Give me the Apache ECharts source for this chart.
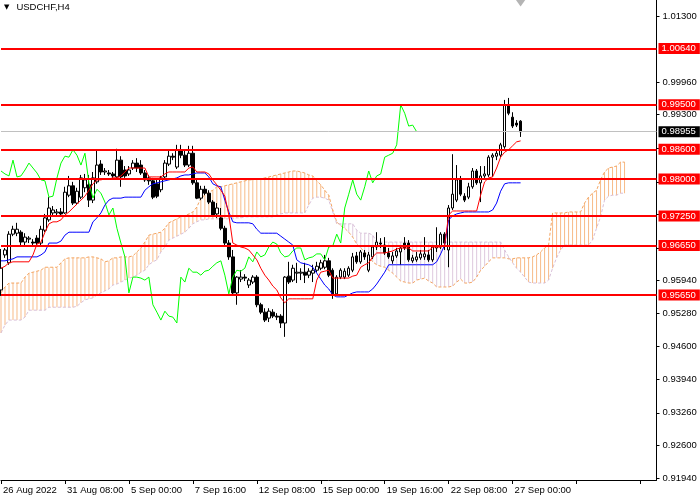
<!DOCTYPE html>
<html><head><meta charset="utf-8">
<script src="https://cdn.jsdelivr.net/npm/echarts@6/dist/echarts.min.js"></script>
<style>html,body{margin:0;padding:0;background:#fff}#c{width:700px;height:500px}</style>
</head><body><div id="c"></div>
<script>
const tickLabels = ['26 Aug 2022','31 Aug 08:00','5 Sep 00:00','7 Sep 16:00','12 Sep 08:00','15 Sep 00:00','19 Sep 16:00','22 Sep 08:00','27 Sep 00:00'];
const yTicks = [1.013,0.9996,0.993,0.9862,0.9794,0.9728,0.966,0.9594,0.9528,0.946,0.9394,0.9326,0.926,0.9194];
const levels = [1.0064,0.9950,0.9860,0.9800,0.9725,0.9665,0.9565];
const lastPrice = 0.98955;
const barsTotal = 165;
const chikouShift = 26;

const opens = [0.9575,0.9646,0.9630,0.9688,0.9690,0.9692,0.9672,0.9678,0.9672,0.9680,
0.9670,0.9696,0.9717,0.9731,0.9731,0.9733,0.9731,0.9767,0.9786,0.9751,
0.9763,0.9782,0.9788,0.9757,0.9794,0.9830,0.9814,0.9812,0.9810,0.9804,
0.9838,0.9818,0.9810,0.9822,0.9832,0.9828,0.9812,0.9802,0.9796,0.9790,
0.9778,0.9804,0.9830,0.9846,0.9824,0.9859,0.9848,0.9828,0.9852,0.9792,
0.9761,0.9779,0.9771,0.9753,0.9729,0.9721,0.9700,0.9670,0.9642,0.9569,
0.9597,0.9601,0.9585,0.9591,0.9601,0.9545,0.9530,0.9518,0.9530,0.9522,
0.9522,0.9508,0.9603,0.9595,0.9609,0.9609,0.9611,0.9605,0.9609,0.9615,
0.9619,0.9621,0.9634,0.9615,0.9567,0.9601,0.9601,0.9605,0.9615,0.9644,
0.9632,0.9650,0.9615,0.9642,0.9662,0.9670,0.9666,0.9650,0.9634,0.9644,
0.9652,0.9670,0.9670,0.9634,0.9636,0.9640,0.9642,0.9646,0.9636,0.9660,
0.9662,0.9688,0.9656,0.9741,0.9757,0.9798,0.9765,0.9763,0.9784,0.9816,
0.9792,0.9806,0.9808,0.9844,0.9846,0.9848,0.9865,0.9950,0.9925,0.9913,
0.9917];
const highs = [0.9658,0.9660,0.9694,0.9705,0.9711,0.9696,0.9690,0.9684,0.9678,0.9686,
0.9705,0.9729,0.9763,0.9745,0.9739,0.9741,0.9784,0.9806,0.9794,0.9782,
0.9808,0.9810,0.9808,0.9814,0.9859,0.9838,0.9822,0.9818,0.9814,0.9861,
0.9846,0.9826,0.9826,0.9838,0.9842,0.9838,0.9818,0.9808,0.9802,0.9798,
0.9806,0.9838,0.9859,0.9852,0.9869,0.9869,0.9859,0.9867,0.9867,0.9798,
0.9786,0.9786,0.9777,0.9757,0.9751,0.9741,0.9705,0.9676,0.9656,0.9603,
0.9615,0.9607,0.9599,0.9605,0.9605,0.9549,0.9538,0.9538,0.9536,0.9528,
0.9526,0.9603,0.9632,0.9626,0.9630,0.9619,0.9630,0.9619,0.9626,0.9632,
0.9636,0.9646,0.9640,0.9619,0.9605,0.9619,0.9619,0.9623,0.9650,0.9652,
0.9656,0.9656,0.9652,0.9666,0.9692,0.9680,0.9682,0.9660,0.9652,0.9660,
0.9666,0.9682,0.9676,0.9646,0.9652,0.9656,0.9682,0.9656,0.9666,0.9702,
0.9692,0.9692,0.9747,0.9850,0.9828,0.9806,0.9771,0.9792,0.9822,0.9820,
0.9826,0.9826,0.9848,0.9852,0.9859,0.9873,0.9960,0.9964,0.9935,0.9919,
0.9919];
const lows = [0.9563,0.9640,0.9626,0.9684,0.9684,0.9662,0.9662,0.9670,0.9664,0.9664,
0.9664,0.9692,0.9713,0.9725,0.9725,0.9725,0.9729,0.9763,0.9747,0.9747,
0.9759,0.9773,0.9743,0.9751,0.9790,0.9808,0.9808,0.9806,0.9802,0.9800,
0.9784,0.9802,0.9806,0.9818,0.9814,0.9808,0.9794,0.9788,0.9759,0.9761,
0.9773,0.9800,0.9826,0.9838,0.9820,0.9842,0.9824,0.9824,0.9788,0.9759,
0.9757,0.9767,0.9749,0.9723,0.9721,0.9696,0.9666,0.9636,0.9563,0.9545,
0.9591,0.9593,0.9579,0.9587,0.9540,0.9526,0.9510,0.9510,0.9518,0.9514,
0.9498,0.9480,0.9587,0.9591,0.9589,0.9595,0.9589,0.9599,0.9591,0.9611,
0.9615,0.9617,0.9601,0.9557,0.9563,0.9597,0.9597,0.9601,0.9611,0.9628,
0.9628,0.9636,0.9611,0.9638,0.9656,0.9660,0.9646,0.9638,0.9628,0.9640,
0.9626,0.9656,0.9632,0.9630,0.9632,0.9636,0.9636,0.9632,0.9632,0.9652,
0.9658,0.9656,0.9621,0.9737,0.9753,0.9765,0.9753,0.9759,0.9780,0.9788,
0.9753,0.9802,0.9804,0.9804,0.9838,0.9844,0.9861,0.9929,0.9903,0.9905,
0.9885];
const closes = [0.9619,0.9656,0.9688,0.9698,0.9698,0.9672,0.9682,0.9680,0.9670,0.9670,
0.9698,0.9721,0.9741,0.9737,0.9733,0.9729,0.9773,0.9786,0.9751,0.9775,
0.9802,0.9798,0.9757,0.9802,0.9828,0.9814,0.9816,0.9810,0.9806,0.9838,
0.9804,0.9806,0.9818,0.9832,0.9822,0.9812,0.9798,0.9796,0.9763,0.9765,
0.9802,0.9832,0.9846,0.9844,0.9859,0.9848,0.9828,0.9852,0.9792,0.9761,
0.9779,0.9771,0.9753,0.9727,0.9741,0.9700,0.9670,0.9642,0.9569,0.9601,
0.9601,0.9599,0.9595,0.9601,0.9545,0.9530,0.9514,0.9532,0.9522,0.9520,
0.9508,0.9601,0.9591,0.9619,0.9611,0.9611,0.9605,0.9613,0.9615,0.9623,
0.9630,0.9634,0.9605,0.9567,0.9601,0.9615,0.9613,0.9619,0.9642,0.9632,
0.9652,0.9642,0.9646,0.9662,0.9672,0.9668,0.9650,0.9642,0.9644,0.9654,
0.9660,0.9660,0.9636,0.9640,0.9642,0.9648,0.9648,0.9636,0.9662,0.9664,
0.9688,0.9670,0.9741,0.9769,0.9798,0.9769,0.9757,0.9784,0.9816,0.9792,
0.9806,0.9810,0.9844,0.9848,0.9852,0.9869,0.9950,0.9933,0.9907,0.9909,
0.98955];
const tenkan = [0.9619,0.9623,0.9630,0.9632,0.9632,0.9632,0.9632,0.9632,0.9646,0.9668,
0.9672,0.9692,0.9709,0.9713,0.9713,0.9717,0.9727,0.9733,0.9741,0.9749,
0.9757,0.9765,0.9777,0.9790,0.9798,0.9798,0.9800,0.9800,0.9802,0.9802,
0.9806,0.9814,0.9822,0.9822,0.9822,0.9822,0.9822,0.9804,0.9804,0.9804,
0.9804,0.9810,0.9814,0.9814,0.9814,0.9814,0.9814,0.9822,0.9824,0.9814,
0.9814,0.9814,0.9810,0.9798,0.9788,0.9777,0.9765,0.9727,0.9670,0.9666,
0.9662,0.9660,0.9656,0.9646,0.9636,0.9619,0.9605,0.9595,0.9583,0.9575,
0.9559,0.9549,0.9557,0.9557,0.9557,0.9557,0.9557,0.9557,0.9557,0.9595,
0.9611,0.9613,0.9615,0.9599,0.9599,0.9599,0.9599,0.9599,0.9603,0.9605,
0.9621,0.9626,0.9630,0.9642,0.9650,0.9650,0.9650,0.9652,0.9654,0.9658,
0.9660,0.9660,0.9660,0.9654,0.9654,0.9654,0.9654,0.9654,0.9662,0.9662,
0.9662,0.9666,0.9727,0.9735,0.9735,0.9735,0.9735,0.9735,0.9735,0.9735,
0.9767,0.9794,0.9802,0.9804,0.9822,0.9844,0.9854,0.9859,0.9867,0.9875,
0.9877];
const kijun = [0.9634,0.9634,0.9636,0.9638,0.9642,0.9642,0.9642,0.9642,0.9642,0.9642,
0.9646,0.9652,0.9670,0.9670,0.9670,0.9674,0.9686,0.9692,0.9692,0.9692,
0.9692,0.9692,0.9692,0.9713,0.9721,0.9731,0.9747,0.9757,0.9761,0.9761,
0.9761,0.9763,0.9763,0.9763,0.9763,0.9763,0.9777,0.9784,0.9790,0.9792,
0.9794,0.9796,0.9798,0.9800,0.9802,0.9806,0.9808,0.9808,0.9810,0.9812,
0.9812,0.9812,0.9804,0.9790,0.9786,0.9784,0.9757,0.9733,0.9713,0.9711,
0.9711,0.9711,0.9711,0.9709,0.9698,0.9690,0.9690,0.9690,0.9690,0.9690,
0.9684,0.9678,0.9672,0.9666,0.9636,0.9630,0.9628,0.9626,0.9621,0.9609,
0.9597,0.9585,0.9577,0.9565,0.9561,0.9561,0.9561,0.9565,0.9569,0.9571,
0.9571,0.9571,0.9571,0.9577,0.9587,0.9599,0.9611,0.9626,0.9626,0.9626,
0.9626,0.9626,0.9626,0.9626,0.9626,0.9626,0.9626,0.9626,0.9626,0.9632,
0.9648,0.9666,0.9717,0.9725,0.9729,0.9731,0.9733,0.9733,0.9733,0.9733,
0.9733,0.9733,0.9733,0.9737,0.9751,0.9775,0.9790,0.9792,0.9792,0.9792,
0.9792];
const spanA = [0.9569,0.9581,0.9589,0.9589,0.9589,0.9589,0.9601,0.9609,0.9611,0.9613,
0.9615,0.9621,0.9621,0.9621,0.9621,0.9630,0.9638,0.9640,0.9640,0.9640,
0.9640,0.9640,0.9642,0.9642,0.9640,0.9638,0.9632,0.9634,0.9640,0.9640,
0.9642,0.9642,0.9642,0.9644,0.9652,0.9660,0.9672,0.9686,0.9688,0.9690,
0.9692,0.9700,0.9711,0.9715,0.9719,0.9723,0.9725,0.9729,0.9733,0.9743,
0.9761,0.9767,0.9773,0.9777,0.9784,0.9784,0.9786,0.9788,0.9790,0.9792,
0.9794,0.9796,0.9798,0.9798,0.9800,0.9800,0.9802,0.9804,0.9806,0.9808,
0.9810,0.9812,0.9814,0.9816,0.9816,0.9814,0.9812,0.9808,0.9806,0.9796,
0.9788,0.9777,0.9767,0.9737,0.9713,0.9705,0.9700,0.9692,0.9682,0.9668,
0.9660,0.9652,0.9642,0.9632,0.9626,0.9623,0.9621,0.9615,0.9609,0.9601,
0.9593,0.9591,0.9589,0.9589,0.9595,0.9597,0.9599,0.9593,0.9589,0.9581,
0.9581,0.9581,0.9581,0.9583,0.9591,0.9597,0.9589,0.9589,0.9591,0.9601,
0.9615,0.9623,0.9632,0.9640,0.9640,0.9640,0.9640,0.9638,0.9638,0.9640,
0.9640,0.9640,0.9640,0.9642,0.9646,0.9652,0.9660,0.9666,0.9731,0.9731,
0.9731,0.9731,0.9733,0.9733,0.9733,0.9733,0.9751,0.9763,0.9771,0.9777,
0.9798,0.9814,0.9822,0.9824,0.9826,0.9834,0.9834];
const spanB = [0.9488,0.9504,0.9514,0.9514,0.9514,0.9514,0.9520,0.9534,0.9534,0.9534,
0.9534,0.9534,0.9540,0.9540,0.9540,0.9540,0.9540,0.9540,0.9540,0.9542,
0.9549,0.9555,0.9557,0.9559,0.9565,0.9569,0.9573,0.9577,0.9585,0.9587,
0.9591,0.9595,0.9599,0.9601,0.9605,0.9611,0.9615,0.9626,0.9632,0.9636,
0.9652,0.9662,0.9676,0.9680,0.9684,0.9688,0.9692,0.9700,0.9709,0.9713,
0.9717,0.9717,0.9719,0.9719,0.9719,0.9719,0.9719,0.9719,0.9719,0.9721,
0.9721,0.9723,0.9723,0.9723,0.9723,0.9723,0.9723,0.9723,0.9723,0.9727,
0.9729,0.9731,0.9731,0.9731,0.9731,0.9731,0.9731,0.9747,0.9761,0.9763,
0.9763,0.9761,0.9757,0.9733,0.9709,0.9709,0.9709,0.9709,0.9709,0.9696,
0.9690,0.9690,0.9690,0.9686,0.9672,0.9672,0.9672,0.9672,0.9672,0.9672,
0.9672,0.9672,0.9672,0.9672,0.9672,0.9672,0.9672,0.9672,0.9672,0.9672,
0.9672,0.9672,0.9672,0.9672,0.9672,0.9672,0.9672,0.9672,0.9672,0.9672,
0.9672,0.9672,0.9672,0.9672,0.9672,0.9672,0.9656,0.9642,0.9630,0.9619,
0.9611,0.9601,0.9591,0.9589,0.9589,0.9589,0.9589,0.9595,0.9619,0.9640,
0.9656,0.9666,0.9666,0.9666,0.9666,0.9666,0.9666,0.9666,0.9676,0.9700,
0.9723,0.9757,0.9765,0.9767,0.9767,0.9771,0.9771];

const categories = Array.from({length: barsTotal}, (_, i) => String(i));
const candleData = opens.map((o, i) => [o, closes[i], lows[i], highs[i]]);
const chikou = closes.slice(chikouShift);
// stacked columns: invisible base up to the lower span, then the gap between the spans
const cloudBase = spanA.map((a, i) => Math.min(a, spanB[i]));
const cloudUp = spanA.map((a, i) => a >= spanB[i] ? a - spanB[i] : 0);
const cloudDown = spanA.map((a, i) => a < spanB[i] ? spanB[i] - a : 0);

const chart = echarts.init(document.getElementById('c'));
const FONT = 'Liberation Sans';
const ORANGE = '#f4a460', THISTLE = '#d8bfd8';
const levelLabel = {
  show: true, position: 'end', distance: 2,
  formatter: p => Number(p.value).toFixed(5),
  backgroundColor: '#ff0000', color: '#ffffff', padding: [1, 4, 0, 3],
  fontSize: 9.5, fontFamily: FONT
};
function cloudBar(name, data, color, opacity) {
  return {
    type: 'bar', name: name, stack: 'cloud', data: data, barWidth: 1, z: 1, silent: true,
    itemStyle: { color: color, opacity: opacity, borderWidth: 0 },
    emphasis: { disabled: true }, large: false
  };
}
chart.setOption({
  animation: false,
  backgroundColor: '#ffffff',
  title: {
    text: '{a|▼}USDCHF,H4', left: 1, top: 1, padding: [1, 2],
    textStyle: { fontSize: 9.5, fontWeight: 'normal', color: '#000', fontFamily: FONT,
      rich: { a: { fontSize: 7, fontFamily: 'DejaVu Sans', color: '#000', padding: [0, 7, 0, 1] } } }
  },
  grid: { left: 0.5, right: 43.5, top: 0, bottom: 20 },
  xAxis: {
    type: 'category', data: categories, boundaryGap: false,
    axisLine: { show: true, lineStyle: { color: '#000', width: 1 } },
    axisTick: { show: true, interval: 15, length: 4, lineStyle: { color: '#000' } },
    axisLabel: { interval: 15, align: 'left', margin: 5, color: '#000', fontSize: 9.5, fontFamily: FONT,
      padding: [0, 0, 0, 2],
      formatter: (v, i) => (i % 16 === 0 && tickLabels[i / 16]) ? tickLabels[i / 16] : '' },
    splitLine: { show: false }
  },
  yAxis: {
    type: 'value', position: 'right', min: 0.9190, max: 1.01624,
    axisLine: { show: true, lineStyle: { color: '#000', width: 1 } },
    axisTick: { show: true, length: 3, lineStyle: { color: '#000' }, customValues: yTicks },
    axisLabel: { customValues: yTicks, formatter: v => v.toFixed(5), color: '#000', fontSize: 9.5, fontFamily: FONT, margin: 6 },
    splitLine: { show: false }
  },
  series: [
    cloudBar('cloudBase', cloudBase, 'rgba(0,0,0,0)', 0),
    cloudBar('cloudUp', cloudUp, ORANGE, 0.75),
    cloudBar('cloudDown', cloudDown, THISTLE, 0.85),
    { type: 'line', name: 'SpanA', data: spanA, z: 2, showSymbol: false, symbol: 'none', silent: true,
      lineStyle: { color: ORANGE, width: 1, type: [3, 2] } },
    { type: 'line', name: 'SpanB', data: spanB, z: 2, showSymbol: false, symbol: 'none', silent: true,
      lineStyle: { color: THISTLE, width: 1, type: [3, 2] } },
    {
      type: 'candlestick', name: 'USDCHF', data: candleData, z: 3, barWidth: 3, silent: true,
      itemStyle: { color: '#ffffff', color0: '#000000', borderColor: '#000000', borderColor0: '#000000', borderWidth: 1 },
      markPoint: { silent: true, symbol: 'triangle', symbolRotate: 180, symbolSize: [10, 7], symbolOffset: [0, 3],
        itemStyle: { color: '#b4b4b4' }, label: { show: false },
        data: [{ coord: [String(opens.length - 1), 1.01624] }] }
    },
    { type: 'line', name: 'Chikou', data: chikou, z: 4, showSymbol: false, symbol: 'none', silent: true,
      lineStyle: { color: '#00ff00', width: 1 } },
    { type: 'line', name: 'Kijun', data: kijun, z: 4, showSymbol: false, symbol: 'none', silent: true,
      lineStyle: { color: '#0000ff', width: 1 } },
    { type: 'line', name: 'Tenkan', data: tenkan, z: 5, showSymbol: false, symbol: 'none', silent: true,
      lineStyle: { color: '#ff0000', width: 1 } },
    {
      type: 'line', name: 'levels', data: [], z: 10, silent: true,
      markLine: {
        symbol: 'none', silent: true, animation: false, precision: 5,
        data: [
          { yAxis: lastPrice, lineStyle: { color: '#c0c0c0', width: 1, type: 'solid' },
            label: Object.assign({}, levelLabel, { backgroundColor: '#000000' }) }
        ].concat(levels.map(v => ({ yAxis: v, lineStyle: { color: '#ff0000', width: 2, type: 'solid' }, label: levelLabel })))
      }
    }
  ]
});
</script></body></html>
